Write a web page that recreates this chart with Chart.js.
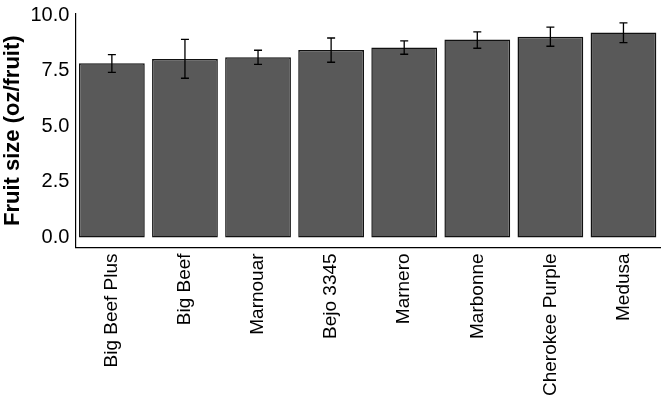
<!DOCTYPE html>
<html>
<head>
<meta charset="utf-8">
<script src="https://cdn.jsdelivr.net/npm/chart.js@4"></script>
<style>
  html, body { margin: 0; padding: 0; background: #fff; }
  #wrap { width: 666px; height: 402px; }
</style>
</head>
<body>
<div id="wrap"><canvas id="sizeChart"></canvas></div>
<script>
// Fruit size by variety
const varieties = ['Big Beef Plus', 'Big Beef', 'Marnouar', 'Bejo 3345', 'Marnero', 'Marbonne', 'Cherokee Purple', 'Medusa'];
const fruitSize = [7.84, 8.03, 8.1, 8.43, 8.54, 8.9, 9.03, 9.22];
const errLow = [7.42, 7.16, 7.78, 7.88, 8.24, 8.51, 8.6, 8.76];
const errHigh = [8.22, 8.91, 8.42, 8.97, 8.84, 9.25, 9.46, 9.65];
const yTicks = [0, 2.5, 5, 7.5, 10];

// Draw whiskers on top of the bars
const errorBars = {
    id: 'errorBars',
    afterDatasetsDraw(chart) {
        const ctx = chart.ctx;
        const x = chart.scales.x, y = chart.scales.y;
        ctx.save();
        ctx.strokeStyle = '#000';
        ctx.lineWidth = 1.3;
        varieties.forEach((v, i) => {
            const cx = x.getPixelForValue(i);
            const top = y.getPixelForValue(errHigh[i]);
            const bot = y.getPixelForValue(errLow[i]);
            ctx.beginPath();
            ctx.moveTo(cx, top); ctx.lineTo(cx, bot);
            ctx.moveTo(cx - 4, top); ctx.lineTo(cx + 4, top);
            ctx.moveTo(cx - 4, bot); ctx.lineTo(cx + 4, bot);
            ctx.stroke();
        });
        ctx.restore();
    }
};

new Chart(document.getElementById('sizeChart'), {
    type: 'bar',
    data: {
        labels: varieties,
        datasets: [{
            data: fruitSize,
            backgroundColor: '#595959',
            borderColor: '#111',
            borderWidth: 1.5,
            borderSkipped: false,
            categoryPercentage: 1,
            barPercentage: 0.9
        }]
    },
    options: {
        responsive: true,
        maintainAspectRatio: false,
        animation: false,
        layout: { padding: { top: 2, right: 6, left: 0, bottom: 4 } },
        plugins: { legend: { display: false }, tooltip: { enabled: false } },
        scales: {
            x: {
                grid: { display: false, drawTicks: true, tickLength: 4 },
                border: { color: '#000', width: 1.2 },
                ticks: { color: '#000', font: { family: 'Liberation Sans, Arial', size: 19 }, maxRotation: 90, minRotation: 90, padding: 2 },
            },
            y: {
                min: -0.45, max: 10.05,
                afterBuildTicks(axis) { axis.ticks = yTicks.map(v => ({ value: v })); },
                grid: { display: false, drawTicks: true, tickLength: 4, tickColor: '#000' },
                border: { color: '#000', width: 1.2 },
                ticks: { color: '#000', font: { family: 'Liberation Sans, Arial', size: 20 }, callback: v => v.toFixed(1), padding: 2 },
                title: { display: true, text: 'Fruit size (oz/fruit)', color: '#000', padding: { top: 0, bottom: 2 }, font: { family: 'Liberation Sans, Arial', size: 22, weight: 'bold' } }
            }
        }
    },
    plugins: [errorBars]
});
</script>
</body>
</html>
